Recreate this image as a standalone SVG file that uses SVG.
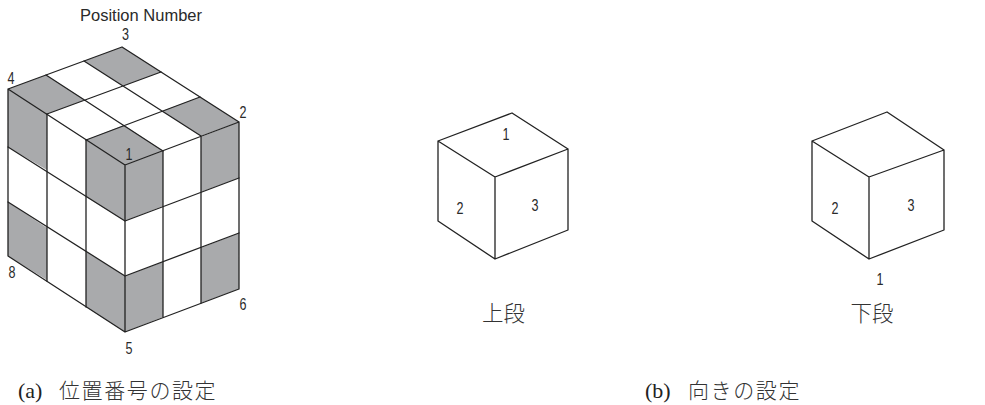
<svg xmlns="http://www.w3.org/2000/svg" width="985" height="405" viewBox="0 0 985 405">
<style>
.g{fill:#a9aaac;stroke:none}
.l{fill:none;stroke:#222;stroke-width:1.3;stroke-linejoin:round;stroke-linecap:round}
.n{font-family:"Liberation Sans",sans-serif;font-size:16.5px;fill:#2a2a2a;text-anchor:middle}
.c{font-family:"Noto Sans CJK JP",sans-serif;font-size:21.5px;fill:#333;text-anchor:middle;font-weight:300}
.k{font-family:"Noto Sans CJK JP",sans-serif;font-size:21px;fill:#333;letter-spacing:1.6px;font-weight:300}
.p{font-family:"Liberation Serif",serif;font-size:22px;fill:#222}
</style>
<rect width="985" height="405" fill="#fff"/>
<g id="position-cube">
<path class="g" d="M122 47L84 61L123 86L161 72ZM46 75L8 89L47 114L85 100ZM200 97L239 122L201 136L162 111ZM124 125L86 140L125 165L163 151Z"/>
<path class="g" d="M8 89L47 114L47 170L8 147ZM86 140L125 165L125 221L86 197ZM8 202L47 228L47 280L8 256ZM86 252L125 276L125 332L86 307Z"/>
<path class="g" d="M125 165L163 151L163 206L125 221ZM125 276L163 262L163 317L125 332ZM201 137L239 122L239 178L201 192ZM201 248L239 233L239 289L201 303Z"/>
<path class="l" d="M122 47L8 89L8 256L125 332L239 289L239 122ZM8 89L125 165L239 122M125 165V332"/>
<path class="l" d="M84 61L201 136M46 75L163 151M161 72L47 114M200 97L86 140"/>
<path class="l" d="M47 114V281M86 140V307M163 151V317M201 137V303"/>
<path class="l" d="M8 147L125 221L239 178M8 202L125 276L239 233"/>
<text class="n" x="141" y="21" textLength="122" lengthAdjust="spacingAndGlyphs">Position Number</text>
<text class="n" x="125.500" y="40" textLength="7" lengthAdjust="spacingAndGlyphs">3</text>
<text class="n" x="11" y="84" textLength="7" lengthAdjust="spacingAndGlyphs">4</text>
<text class="n" x="243" y="118" textLength="7" lengthAdjust="spacingAndGlyphs">2</text>
<text class="n" x="129" y="160" textLength="7" lengthAdjust="spacingAndGlyphs">1</text>
<text class="n" x="12" y="278" textLength="7" lengthAdjust="spacingAndGlyphs">8</text>
<text class="n" x="129" y="354" textLength="7" lengthAdjust="spacingAndGlyphs">5</text>
<text class="n" x="243" y="310" textLength="7" lengthAdjust="spacingAndGlyphs">6</text>
</g>
<g id="upper-cube">
<path class="l" d="M512 113L438 141L438 221L495 259L568 230L568 149ZM438 141L495 177L568 149M495 177V259"/>
<text class="n" x="506" y="140" textLength="7" lengthAdjust="spacingAndGlyphs">1</text>
<text class="n" x="460" y="214" textLength="7" lengthAdjust="spacingAndGlyphs">2</text>
<text class="n" x="535" y="211" textLength="7" lengthAdjust="spacingAndGlyphs">3</text>
<text class="c" x="503.500" y="321">上段</text>
</g>
<g id="lower-cube">
<path class="l" d="M887 112L812 141L812 221L869 259L944 230L944 150ZM812 141L869 177L944 150M869 177V259"/>
<text class="n" x="835" y="214" textLength="7" lengthAdjust="spacingAndGlyphs">2</text>
<text class="n" x="911" y="211" textLength="7" lengthAdjust="spacingAndGlyphs">3</text>
<text class="n" x="880" y="285" textLength="7" lengthAdjust="spacingAndGlyphs">1</text>
<text class="c" x="872" y="321">下段</text>
</g>
<g id="captions">
<text class="p" x="18" y="398">(a)</text>
<text class="k" x="59" y="398">位置番号の設定</text>
<text class="p" x="645" y="398">(b)</text>
<text class="k" x="688" y="398">向きの設定</text>
</g>
</svg>
